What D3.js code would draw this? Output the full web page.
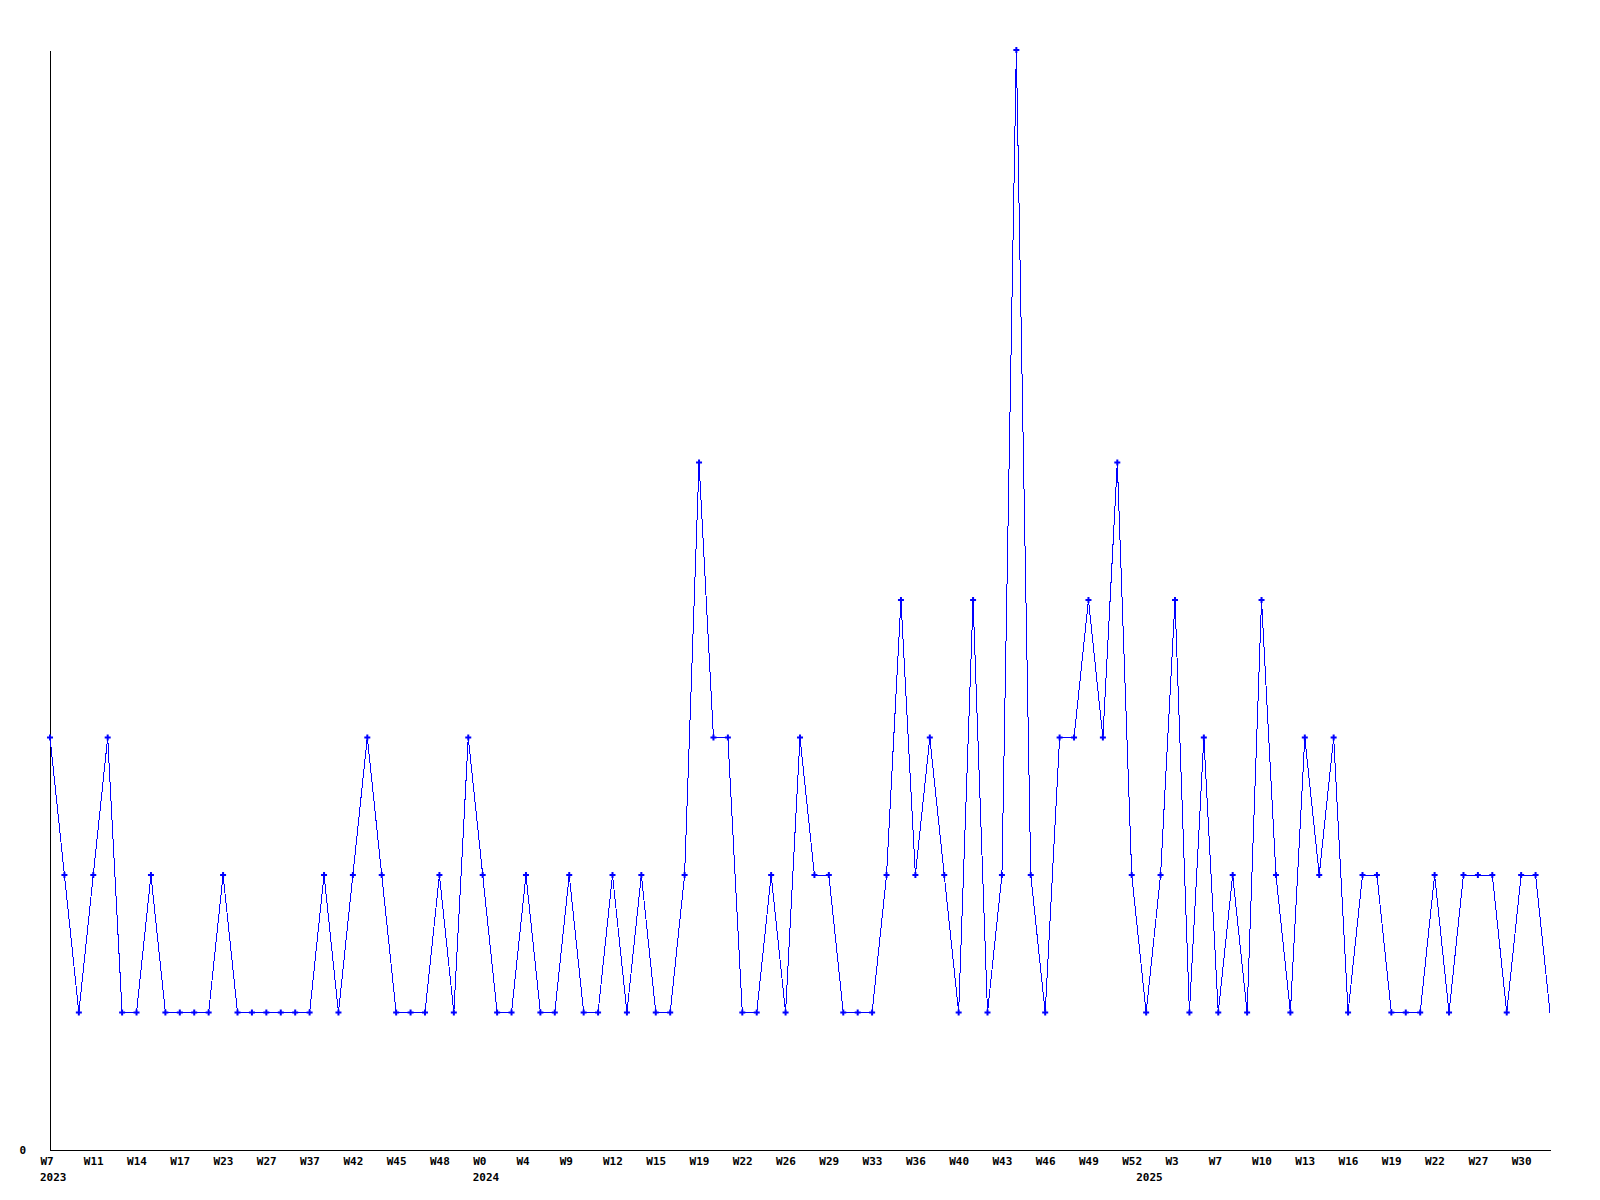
<!DOCTYPE html>
<html>
<head>
<meta charset="utf-8">
<script src="https://cdn.jsdelivr.net/npm/d3@7"></script>
<style>
  html, body { margin: 0; padding: 0; background: #fff; }
  svg { display: block; }
  .lbl { font-family: "DejaVu Sans Mono", "Liberation Mono", monospace; font-weight: bold; font-size: 11px; fill: #000; }
</style>
</head>
<body>
<svg id="chart" width="1600" height="1200"></svg>
<script>
// Weekly counts, one per point (105 points)
const values = [
  3,2,1,2,3,1,1,2,1,1, 1,1,2,1,1,1,1,1,1,2,
  1,2,3,2,1,1,1,2,1,3, 2,1,1,2,1,1,2,1,1,2,
  1,2,1,1,2,5,3,3,1,1, 2,1,3,2,2,1,1,1,2,4,
  2,3,2,1,4,1,2,8,2,1, 3,3,4,3,5,2,1,2,4,1,
  3,1,2,1,4,2,1,3,2,3, 1,2,2,1,1,1,2,1,2,2,
  2,1,2,2,1
];
// Tick labels shown on every 3rd point
const tickLabels = [
  "W7","W11","W14","W17","W23","W27","W37","W42","W45","W48",
  "W0","W4","W9","W12","W15","W19","W22","W26","W29","W33",
  "W36","W40","W43","W46","W49","W52","W3","W7","W10","W13",
  "W16","W19","W22","W27","W30"
];
const tickStep = 3;
// Year labels and the point index where each year starts
const yearLabels = ["2023","2024","2025"];
const yearStarts = [0, 30, 76];
const yMax = 8;

const svg = d3.select("#chart");
const mLeft = 50, mRight = 1550, mTop = 50, mBottom = 1150;

const x = d3.scaleLinear().domain([0, values.length - 1]).range([mLeft, mRight]);
const y = d3.scaleLinear().domain([0, yMax]).range([mBottom, mTop]);

// axes
const xAxis = d3.axisBottom(x)
  .tickValues(d3.range(0, values.length, tickStep))
  .tickFormat((d, i) => tickLabels[i])
  .tickSize(0).tickSizeOuter(0);
const gx = svg.append("g").attr("transform", `translate(0,${mBottom})`).call(xAxis);
gx.attr("font-family", null).attr("font-size", null);
gx.select(".domain").attr("stroke", "#000").attr("shape-rendering", "crispEdges");
gx.selectAll(".tick text")
  .attr("class", "lbl")
  .attr("text-anchor", "start")
  .attr("x", -10).attr("y", 15).attr("dy", null);

const yAxis = d3.axisLeft(y).tickValues([0]).tickFormat(d3.format("d")).tickSize(0).tickSizeOuter(0);
const gy = svg.append("g").attr("transform", `translate(${mLeft},0)`).call(yAxis);
gy.attr("font-family", null).attr("font-size", null);
gy.select(".domain").attr("stroke", "#000").attr("shape-rendering", "crispEdges");
gy.selectAll(".tick text").attr("class", "lbl").attr("x", -24).attr("dy", "0.32em").attr("text-anchor", "end");

// year labels
svg.append("g").selectAll("text").data(yearLabels).join("text")
  .attr("class", "lbl")
  .attr("x", (d, i) => x(yearStarts[i]) - 10)
  .attr("y", mBottom + 31)
  .text(d => d);

// line
const line = d3.line().x((d, i) => x(i)).y(d => y(d));
svg.append("path").datum(values)
  .attr("d", line)
  .attr("fill", "none")
  .attr("stroke", "#0000ff")
  .attr("stroke-width", 1)
  .attr("shape-rendering", "crispEdges");

// markers (all but the last point)
const cross = d3.symbol().type(d3.symbolCross).size(20);
svg.append("g").selectAll("path").data(values.slice(0, values.length - 1)).join("path")
  .attr("d", cross)
  .attr("transform", (d, i) => `translate(${x(i)},${y(d)})`)
  .attr("fill", "#0000ff");
</script>
</body>
</html>
